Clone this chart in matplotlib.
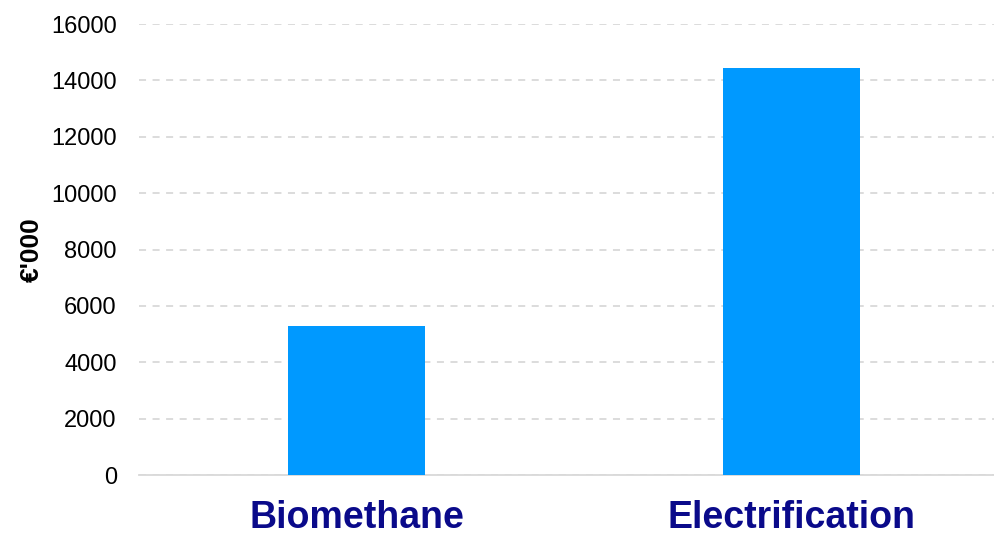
import matplotlib
matplotlib.use("Agg")
import matplotlib.pyplot as plt

categories = ["Biomethane", "Electrification"]
values = [5300, 14430]
yticks = [0, 2000, 4000, 6000, 8000, 10000, 12000, 14000, 16000]

plt.rcParams['font.family'] = ['Liberation Sans', 'DejaVu Sans']

fig = plt.figure(figsize=(9.95, 5.35), dpi=100)
ax = fig.add_axes([0.1397, 0.1121, 0.859, 0.843])

x = list(range(len(categories)))
ax.bar(x, values, width=0.315, color="#0099FF", zorder=3)

ax.set_ylim(0, 16000)
ax.set_xlim(-0.5, 1.464)
ax.set_yticks(yticks)
ax.set_yticklabels([str(t) for t in yticks], fontsize=17)
ax.set_xticks(x)
ax.set_xticklabels(categories, fontsize=27, fontweight="bold", color="#0A0A8A")
ax.tick_params(axis="y", length=0, pad=16)
ax.tick_params(axis="x", length=0, pad=18)

ax.grid(axis="y", color="#d9d9d9", linestyle=(0, (3.9, 3.6)), linewidth=1.3, zorder=0)
for s in ["top", "right", "left"]:
    ax.spines[s].set_visible(False)
ax.spines["bottom"].set_color("#d9d9d9")
ax.spines["bottom"].set_linewidth(1.3)

ax.set_ylabel("€'000", fontsize=19, fontweight="bold", labelpad=5)

fig.savefig("out.png", dpi=100)
